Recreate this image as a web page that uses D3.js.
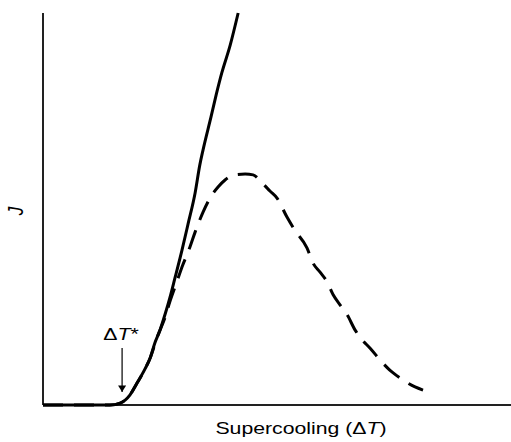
<!DOCTYPE html>
<html>
<head>
<meta charset="utf-8">
<script src="https://cdn.jsdelivr.net/npm/d3@7"></script>
<style>
    body { margin: 0; background: #fff; }
    text { font-family: "Liberation Sans", Arial, sans-serif; fill: #000; }
</style>
</head>
<body>
<svg id="canvas" width="511" height="442"></svg>
<script>
// supercooling (arbitrary units) and nucleation rate J (arbitrary units)
const solidX = [0, 14.3, 16.5, 18.6, 20.1, 21.8, 22.9, 23.9, 25.0, 26.1, 27.1, 28.2, 29.7, 31.0, 32.5, 33.5, 34.2, 35.9, 37.0, 38.2, 40.0, 41.7];
const solidJ = [0, 0, 0.5, 2.6, 5.6, 9.2, 12.0, 15.8, 19.1, 23.2, 27.3, 32.4, 39.5, 46.2, 54.1, 61.2, 65.1, 73.5, 79.1, 84.7, 91.8, 100];

const dashedX = [0, 14.3, 16.5, 18.6, 20.1, 21.8, 22.9, 24.4, 26.1, 27.1, 28.6, 29.7, 31.4, 32.5, 34.2, 35.7, 37.4, 38.9, 41.0, 43.2, 44.9, 47.0, 48.5, 50.0, 52.1, 53.8, 56.4, 57.7, 59.2, 60.7, 62.0, 63.5, 65.0, 66.7, 68.2, 69.9, 72.0, 74.1, 76.3, 79.5, 81.2];
const dashedJ = [0, 0, 0.5, 2.6, 5.6, 9.2, 12.0, 17.3, 22.4, 26.3, 31.4, 35.2, 40.3, 44.1, 49.2, 52.8, 55.6, 57.4, 58.7, 58.9, 58.7, 56.4, 54.6, 52.8, 48.0, 44.6, 40.1, 36.2, 33.9, 31.4, 28.1, 25.5, 23.0, 19.1, 16.6, 14.5, 11.5, 8.9, 6.9, 4.6, 3.8];

const markerX = 16.9; // critical supercooling ΔT*

const canvas = d3.select("#canvas");

const xScale = d3.scaleLinear().domain([0, 100]).range([43, 511]);
const yScale = d3.scaleLinear().domain([0, 100]).range([405, 13]);

const toPoints = (xs, ys) => xs.map((x, i) => [x, ys[i]]);

const line = d3
    .line()
    .x((d) => xScale(d[0]))
    .y((d) => yScale(d[1]))
    .curve(d3.curveMonotoneX);

// axes (plain lines, no ticks)
canvas
    .append("line")
    .attr("x1", xScale(0))
    .attr("x2", xScale(0))
    .attr("y1", yScale(0))
    .attr("y2", yScale(100))
    .attr("stroke", "#222")
    .attr("stroke-width", 2);

canvas
    .append("line")
    .attr("x1", xScale(0))
    .attr("x2", xScale(100))
    .attr("y1", yScale(0))
    .attr("y2", yScale(0))
    .attr("stroke", "#222")
    .attr("stroke-width", 2);

canvas
    .append("path")
    .datum(toPoints(dashedX, dashedJ))
    .attr("d", line)
    .attr("fill", "none")
    .attr("stroke", "#000")
    .attr("stroke-width", 3)
    .attr("stroke-dasharray", "20,11");

canvas
    .append("path")
    .datum(toPoints(solidX, solidJ))
    .attr("d", line)
    .attr("fill", "none")
    .attr("stroke", "#000")
    .attr("stroke-width", 3);

// ΔT* annotation
canvas
    .append("defs")
    .append("marker")
    .attr("id", "arrow")
    .attr("viewBox", "0 0 8 10")
    .attr("refX", 8)
    .attr("refY", 5)
    .attr("markerWidth", 8)
    .attr("markerHeight", 8)
    .attr("markerUnits", "userSpaceOnUse")
    .attr("orient", "auto")
    .append("path")
    .attr("d", "M0,0 L8,5 L0,10 Z")
    .attr("fill", "#000");

canvas
    .append("line")
    .attr("x1", xScale(markerX))
    .attr("x2", xScale(markerX))
    .attr("y1", 348)
    .attr("y2", 392)
    .attr("stroke", "#000")
    .attr("stroke-width", 1.2)
    .attr("marker-end", "url(#arrow)");

// the original figure is stretched a bit sideways, so text is too
const dt = canvas
    .append("text")
    .attr("transform", `translate(${xScale(markerX) - 1}, 340) scale(1.25, 1)`)
    .attr("text-anchor", "middle")
    .style("font-size", "17px");
dt.append("tspan").text("\u0394");
dt.append("tspan").style("font-style", "italic").text("T");
dt.append("tspan").text("*");

// axis titles
const xl = canvas
    .append("text")
    .attr("transform", "translate(301, 434) scale(1.25, 1)")
    .attr("text-anchor", "middle")
    .style("font-size", "17px");
xl.append("tspan").text("Supercooling (\u0394");
xl.append("tspan").style("font-style", "italic").text("T");
xl.append("tspan").text(")");

canvas
    .append("text")
    .attr("transform", "translate(23, 211) scale(1.25, 1) rotate(-90)")
    .attr("text-anchor", "middle")
    .style("font-size", "17px")
    .style("font-style", "italic")
    .text("J");
</script>
</body>
</html>
